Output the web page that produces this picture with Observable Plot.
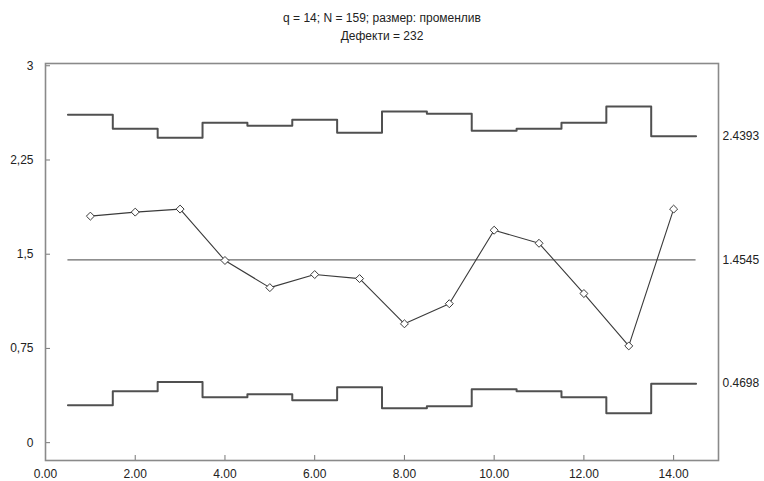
<!DOCTYPE html>
<html>
<head>
<meta charset="utf-8">
<script src="https://cdn.jsdelivr.net/npm/d3@7"></script>
<script src="https://cdn.jsdelivr.net/npm/@observablehq/plot@0.6"></script>
<style>
  html, body { margin: 0; padding: 0; background: #fff; }
  svg { display: block; }
</style>
</head>
<body>
<div id="chart"></div>
<script>
const samples = [1, 2, 3, 4, 5, 6, 7, 8, 9, 10, 11, 12, 13, 14];
const uValues = [1.803, 1.835, 1.859, 1.450, 1.234, 1.338, 1.306, 0.946, 1.106, 1.691, 1.587, 1.187, 0.770, 1.859];
const uclValues = [2.611, 2.499, 2.427, 2.547, 2.523, 2.571, 2.467, 2.635, 2.619, 2.483, 2.499, 2.547, 2.675, 2.4393];
const lclValues = [0.298, 0.410, 0.482, 0.362, 0.386, 0.338, 0.442, 0.274, 0.290, 0.426, 0.410, 0.362, 0.234, 0.4698];
const centerValue = 1.4545;
const yTicks = [0, 0.75, 1.5, 2.25, 3];
const xTicks = [0, 2, 4, 6, 8, 10, 12, 14];
const rightLabels = ["2.4393", "1.4545", "0.4698"];
const titleLines = ["q = 14; N = 159; размер: променлив", "Дефекти = 232"];

const points = samples.map((s, i) => ({x: s, u: uValues[i]}));
const stepData = (vals) => samples.flatMap((s, i) => [{x: s - 0.5, v: vals[i]}, {x: s + 0.5, v: vals[i]}]);
const uclSteps = stepData(uclValues);
const lclSteps = stepData(lclValues);
const rightVals = [uclValues[uclValues.length - 1], centerValue, lclValues[lclValues.length - 1]];
const rightData = rightLabels.map((t, i) => ({t, v: rightVals[i]}));

const W = 764, H = 481;
const mL = 45, mR = 46, mT = 63, mB = 21;
const innerW = W - mL - mR, innerH = H - mT - mB;
const ink = "#3a3a3a";

const chart = Plot.plot({
  width: W,
  height: H,
  marginLeft: mL,
  marginRight: mR,
  marginTop: mT,
  marginBottom: mB,
  style: {fontFamily: "'Liberation Sans', Arial, sans-serif", fontSize: "12px", color: "#222", background: "#fff"},
  x: {domain: [0, 15]},
  y: {domain: [-0.142, 3.018]},
  marks: [
    Plot.axisY({ticks: yTicks, tickSize: 0, tickPadding: 12, tickFormat: d => String(d).replace(".", ","), fontSize: 12, label: null}),
    Plot.axisX({ticks: xTicks, tickSize: 0, tickPadding: 9, tickFormat: d => d.toFixed(2), fontSize: 12, label: null}),
    Plot.tickY(yTicks, {y: d => d, stroke: "#777", strokeWidth: 1, insetRight: innerW - 5}),
    Plot.tickX(xTicks, {x: d => d, stroke: "#777", strokeWidth: 1, insetTop: innerH - 5}),
    Plot.frame({stroke: "#8a8a8a", strokeWidth: 1.6}),
    Plot.line(uclSteps, {x: "x", y: "v", stroke: "#505050", strokeWidth: 2}),
    Plot.line(lclSteps, {x: "x", y: "v", stroke: "#505050", strokeWidth: 2}),
    Plot.ruleY([centerValue], {x1: 0.5, x2: 14.5, stroke: "#6a6a6a", strokeWidth: 1.2}),
    Plot.line(points, {x: "x", y: "u", stroke: ink, strokeWidth: 1.1}),
    Plot.dot(points, {x: "x", y: "u", symbol: "diamond2", r: 3.6, stroke: ink, strokeWidth: 1, fill: "#fff"}),
    Plot.text(rightData, {x: () => 15, y: "v", text: "t", dx: 4, textAnchor: "start", fontSize: 12, fill: "#222"}),
    Plot.text([titleLines[0]], {frameAnchor: "top", text: d => d, dy: -50, fontSize: 12, fill: "#222"}),
    Plot.text([titleLines[1]], {frameAnchor: "top", text: d => d, dy: -32, fontSize: 12, fill: "#222"})
  ]
});
document.getElementById("chart").appendChild(chart);
</script>
</body>
</html>
